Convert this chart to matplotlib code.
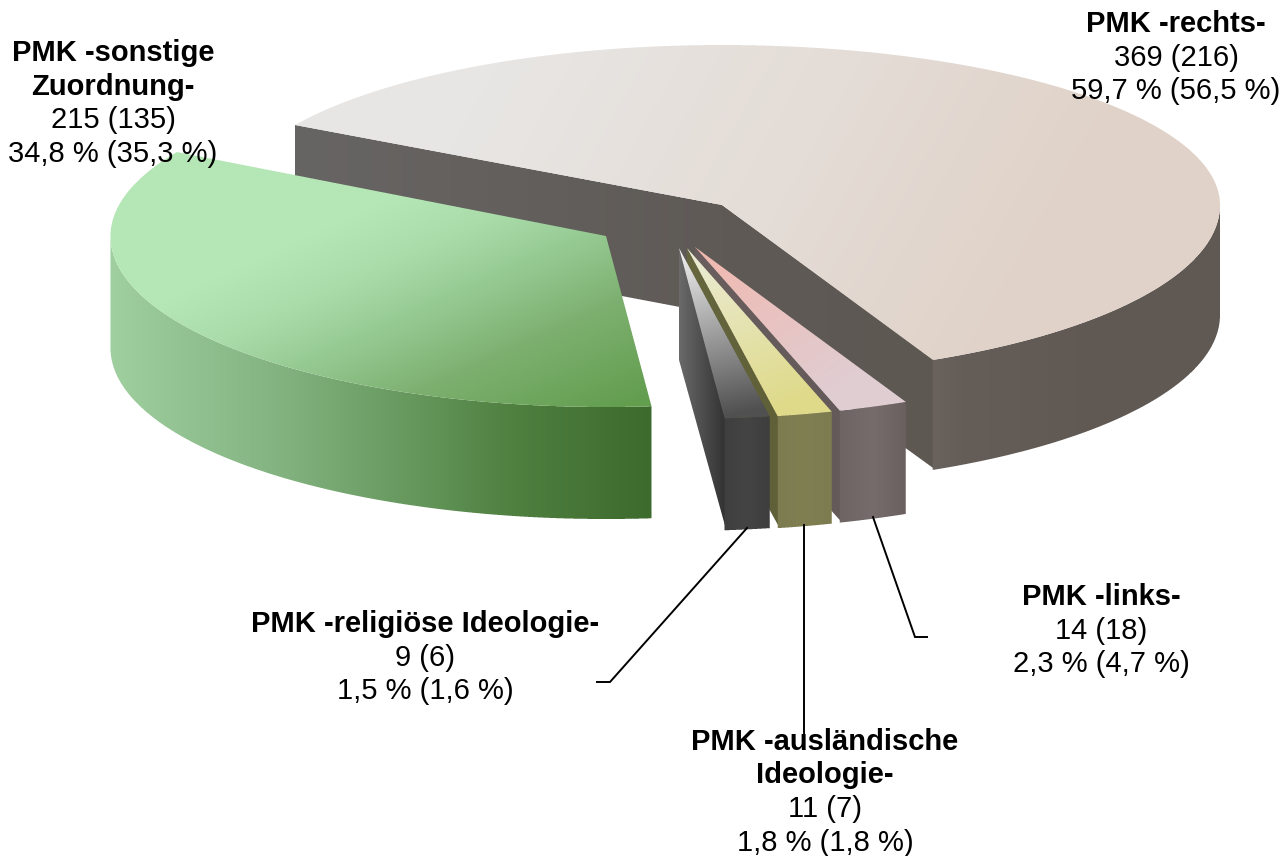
import numpy as np
import matplotlib
matplotlib.use("Agg")
import matplotlib.pyplot as plt
from matplotlib.path import Path

# ---------- data ----------
names = ["PMK -rechts-", "PMK -links-", "PMK -ausländische\nIdeologie-",
         "PMK -religiöse Ideologie-", "PMK -sonstige\nZuordnung-"]
values = [369, 14, 11, 9, 215]
prev_values = [216, 18, 7, 6, 135]
shares = ["59,7", "2,3", "1,8", "1,5", "34,8"]
prev_shares = ["56,5", "4,7", "1,8", "1,6", "35,3"]

# ---------- layout / style ----------
W, H = 1286, 856
START = 300.0            # clockwise from top, first slice
B_FRONT = 171
apex = [(722, 205), (695, 247), (687, 248), (679, 248), (606, 236)]
radius = [498, 498, 498, 498, 498]
left_scale = [0.99, 1, 1, 1, 0.995]   # foreshortening on the far left
b_back = [160, 160, 160, 160, 168]
depth = [110, 112, 112, 112, 112]

fig = plt.figure(figsize=(W / 100, H / 100), dpi=100)
ax = fig.add_axes([0, 0, 1, 1])
ax.set_axis_off()
plt.rcParams['font.family'] = ['Liberation Sans', 'DejaVu Sans']


def hex_rgb(h):
    return np.array(matplotlib.colors.to_rgb(h))


def fill_grad(poly, p0, p1, stops):
    """Antialiased polygon with linear gradient, via imshow on the axes."""
    poly = np.asarray(poly)
    x0, y0 = np.floor(poly.min(0)).astype(int) - 1
    x1, y1 = np.ceil(poly.max(0)).astype(int) + 1
    nx, ny = x1 - x0, y1 - y0
    ss = 4
    xs = x0 + (np.arange(nx * ss) + .5) / ss
    ys = y0 + (np.arange(ny * ss) + .5) / ss
    gx, gy = np.meshgrid(xs, ys)
    inside = Path(poly).contains_points(np.c_[gx.ravel(), gy.ravel()]).reshape(gx.shape)
    alpha = inside.reshape(ny, ss, nx, ss).mean(axis=(1, 3))
    px, py = np.meshgrid(x0 + np.arange(nx) + .5, y0 + np.arange(ny) + .5)
    d = np.array(p1, float) - np.array(p0, float)
    t = np.clip(((px - p0[0]) * d[0] + (py - p0[1]) * d[1]) / (d @ d), 0, 1)
    pos = [s[0] for s in stops]
    cols = np.array([hex_rgb(s[1]) for s in stops])
    rgba = np.dstack([np.interp(t, pos, cols[:, i]) for i in range(3)] + [alpha])
    ax.imshow(rgba, extent=(x0, x1, y1, y0), interpolation="nearest", aspect="auto", zorder=2)


def pt(i, t):
    c, r = apex[i], radius[i]
    t = np.radians(t)
    b = np.where(np.cos(t) < 0, B_FRONT, b_back[i])
    s = np.sin(t)
    k = np.where(s < 0, left_scale[i], 1.0)
    return np.c_[c[0] + r * k * s, c[1] - b * np.cos(t)]


def arc(i, t0, t1):
    return pt(i, np.linspace(t0, t1, 200))


def top(i, t0, t1):
    return np.vstack([[apex[i]], arc(i, t0, t1)])


def rim(i, t0, t1):
    a = arc(i, t0, t1)
    return np.vstack([a, (a + [0, depth[i]])[::-1]])


def wall(i, t, overlap=0.0):
    c, d = apex[i], depth[i]
    p = pt(i, np.array([t]))[0]
    return [c, (p[0] + overlap, p[1]), (p[0] + overlap, p[1] + d - 1), (c[0], c[1] + d)]


# wedge angles from the data
total = sum(values)
spans = [v / total * 360 for v in values]
edges = START + np.concatenate([[0], np.cumsum(spans)])
T = [(edges[i], edges[i + 1]) for i in range(5)]

# --- PMK rechts
t0, t1 = T[0]
fill_grad(wall(0, t0), (295, 0), (722, 0), [(0, "#676564"), (1, "#5f5a56")])
fill_grad(wall(0, t1, 1.5), (722, 0), (933, 0), [(0, "#5f5a56"), (1, "#5e5853")])
fill_grad(rim(0, 450, t1), (933, 0), (1220, 0),
          [(0, "#69625d"), (.1, "#645d58"), (.6, "#5f5853"), (1, "#5f5853")])
fill_grad(top(0, t0, t1), (500, 60), (1000, 340),
          [(0, "#e8e6e4"), (.55, "#e4dcd6"), (1, "#e0d2c8")])

# --- small slices, right to left
small = [
    (1, ("#6a5e5e", "#645a5a"), ("#6f6464", "#776c6c", "#6b6060"), ("#f2b8ae", "#e0cdd2")),
    (2, ("#66663f", "#5f5f38"), ("#7c7c50", "#7f7f52", "#7c7c50"), ("#ebecd8", "#dfda8a")),
    (3, ("#6a6a6a", "#333333"), ("#3f3f3f", "#444444", "#3e3e3e"), ("#f4f4f4", "#505050")),
]
for i, wc, rc, tc in small:
    c = apex[i]
    t0, t1 = T[i]
    p_r, p_l = pt(i, np.array([t0, t1]))
    fill_grad(wall(i, t1, 1.5), (c[0], 0), (p_l[0], 0), [(0, wc[0]), (1, wc[1])])
    fill_grad(rim(i, t0, t1), (p_l[0], 0), (p_r[0], 0),
              [(0, rc[0]), (.5, rc[1]), (1, rc[2])])
    fill_grad(top(i, t0, t1), c, (c[0] + (p_l[0] - c[0]) * .75, p_l[1]),
              [(0, tc[0]), (1, tc[1])])

# --- PMK sonstige
t0, t1 = T[4]
fill_grad(rim(4, t0, 630), (110, 0), (650, 0),
          [(0, "#a0cfa0"), (.35, "#7fb07c"), (.75, "#4f8040"), (1, "#3d6a2d")])
fill_grad(top(4, t0, t1), (390, 200), (508, 460),
          [(0, "#b5e6b5"), (.2, "#aadcaa"), (.43, "#93c78f"), (.65, "#7db070"), (1, "#639e4f")])

# ---------- leader lines ----------
leaders = [
    ([873, 915, 927], [517, 637, 637]),
    ([804, 804], [525, 733]),
    ([747, 610, 597], [528, 682, 682]),
]
for lx, ly in leaders:
    ax.plot(lx, ly, color="black", lw=1.4, zorder=3, solid_joinstyle="miter")

# ---------- labels ----------
label_pos = [(1176, 24), (1101, 597), (825, 741.5), (425, 624), (113, 53)]
step = 33.7
fs = 21.0
for i, (cx, y) in enumerate(label_pos):
    head = names[i].split("\n")
    for line in head:
        ax.text(cx, y, line, ha="center", va="center", fontsize=fs,
                fontweight="bold", color="black", zorder=4)
        y += step
    ax.text(cx, y, f"{values[i]} ({prev_values[i]})", ha="center", va="center",
            fontsize=fs, color="black", zorder=4)
    y += step
    ax.text(cx, y, f"{shares[i]} % ({prev_shares[i]} %)", ha="center", va="center",
            fontsize=fs, color="black", zorder=4)

ax.set_xlim(0, W)
ax.set_ylim(H, 0)
fig.savefig("out.png", dpi=100, facecolor="white")
